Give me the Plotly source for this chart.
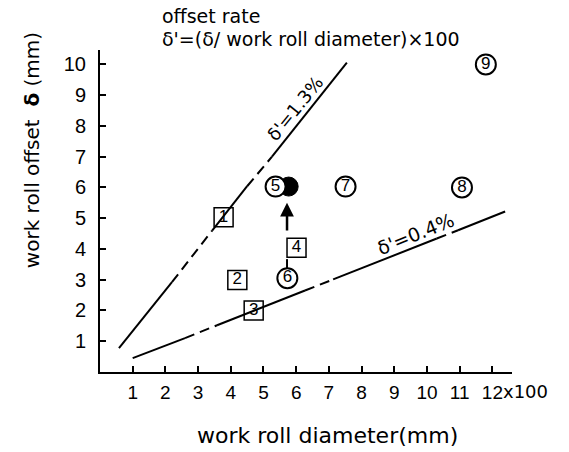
import plotly.graph_objects as go

# ---- data ----
# delta' = 1.3 % line (vertices; segments alternate solid / dashed)
line13_x = [0.58, 2.2, 3.43, 4.5, 5.26, 7.55]
line13_y = [0.78, 2.92, 4.6, 6.04, 7.0, 10.06]
line13_style = ["solid", "dash", "solid", "dash", "solid"]

# delta' = 0.4 % line
line04_x = [1.0, 2.6, 3.58, 6.27, 7.13, 10.3, 10.95, 12.39]
line04_y = [0.45, 1.10, 1.52, 2.65, 3.01, 4.34, 4.61, 5.22]
line04_style = ["solid", "dash", "solid", "dash", "solid", "dash", "solid"]

# square-marked cases
box_x = [3.78, 4.2, 4.7, 6.01]
box_y = [5.03, 2.99, 2.0, 4.04]
box_labels = ["1", "2", "3", "4"]

# circle-marked cases
circ_x = [5.37, 5.73, 7.51, 11.07, 11.8]
circ_y = [6.03, 3.05, 6.03, 6.0, 10.0]
circ_labels = ["5", "6", "7", "8", "9"]

# filled circle (improved case)
filled_x = [5.77]
filled_y = [6.03]

# connector from 6 to 4, and arrow from 4 up to the filled point
conn_x = [5.72, 5.72]
conn_y = [3.3, 3.67]
arrow_from = (5.72, 4.55)
arrow_to = (5.72, 5.5)

x_ticks = list(range(1, 13))
y_ticks = list(range(1, 11))

FONT = "Liberation Sans"
TFONT = "DejaVu Sans"

fig = go.Figure()

def add_segments(xs, ys, styles):
    for i, st in enumerate(styles):
        fig.add_trace(go.Scatter(
            x=xs[i:i + 2], y=ys[i:i + 2], mode="lines",
            line=dict(color="black", width=2,
                      dash=("solid" if st == "solid" else "10px,6px")),
            showlegend=False, hoverinfo="skip"))

add_segments(line13_x, line13_y, line13_style)
add_segments(line04_x, line04_y, line04_style)

fig.add_trace(go.Scatter(x=conn_x, y=conn_y, mode="lines",
                         line=dict(color="black", width=2),
                         showlegend=False, hoverinfo="skip"))

fig.add_trace(go.Scatter(
    x=filled_x, y=filled_y, mode="markers",
    marker=dict(symbol="circle", size=19, color="black",
                line=dict(color="black", width=1)),
    showlegend=False))

fig.add_trace(go.Scatter(
    x=box_x, y=box_y, mode="markers+text", text=box_labels,
    textposition="middle center",
    textfont=dict(family=FONT, size=17, color="black"),
    marker=dict(symbol="square-open", size=19, color="black",
                line=dict(color="black", width=1.5)),
    showlegend=False))

fig.add_trace(go.Scatter(
    x=circ_x, y=circ_y, mode="markers+text", text=circ_labels,
    textposition="middle center",
    textfont=dict(family=FONT, size=17, color="black"),
    marker=dict(symbol="circle", size=20, color="white",
                line=dict(color="black", width=2)),
    showlegend=False))

fig.add_annotation(x=arrow_to[0], y=arrow_to[1], ax=arrow_from[0], ay=arrow_from[1],
                   xref="x", yref="y", axref="x", ayref="y", text="",
                   showarrow=True, arrowhead=2, arrowsize=1.1, arrowwidth=2.5,
                   arrowcolor="black")

# line labels
fig.add_annotation(x=5.97, y=8.56, xref="x", yref="y", text="δ'=1.3%",
                   showarrow=False, textangle=-51,
                   font=dict(family=TFONT, size=18, color="black"))
fig.add_annotation(x=9.64, y=4.5, xref="x", yref="y", text="δ'=0.4%",
                   showarrow=False, textangle=-22,
                   font=dict(family=TFONT, size=19, color="black"))

# title lines
fig.add_annotation(x=0.1456, y=1.106, xref="paper", yref="paper",
                   text="offset rate", showarrow=False,
                   xanchor="left", yanchor="middle",
                   font=dict(family=TFONT, size=19, color="black"))
fig.add_annotation(x=0.1456, y=1.034, xref="paper", yref="paper",
                   text="δ'=(δ/ work roll diameter)×100", showarrow=False,
                   xanchor="left", yanchor="middle",
                   font=dict(family=TFONT, size=19, color="black"))

# axis titles
fig.add_annotation(x=0.551, y=-0.196, xref="paper", yref="paper",
                   text="work roll diameter(mm)", showarrow=False,
                   xanchor="center", yanchor="middle",
                   font=dict(family=TFONT, size=22, color="black"))
fig.add_annotation(x=-0.165, y=0.689, xref="paper", yref="paper",
                   text="work roll offset  <b>δ</b> (mm)", showarrow=False,
                   textangle=-90, xanchor="center", yanchor="middle",
                   font=dict(family=TFONT, size=20, color="black"))

# "x100" suffix after the last x tick
fig.add_annotation(x=12, y=-0.062, xref="x", yref="paper", text="x100",
                   showarrow=False, xanchor="left", yanchor="middle", xshift=9,
                   font=dict(family=TFONT, size=18, color="black"))

fig.update_xaxes(range=[0, 12.6], tickvals=x_ticks,
                 ticktext=[str(v) for v in x_ticks],
                 ticks="inside", ticklen=6, tickwidth=1.5, tickcolor="black",
                 showline=True, linecolor="black", linewidth=2,
                 showgrid=False, zeroline=False, ticklabelstandoff=2,
                 tickfont=dict(family=FONT, size=19, color="black"))
fig.update_yaxes(range=[0, 10.47], tickvals=y_ticks,
                 ticktext=[str(v) for v in y_ticks],
                 ticks="inside", ticklen=6, tickwidth=1.5, tickcolor="black",
                 showline=True, linecolor="black", linewidth=2,
                 showgrid=False, zeroline=False, ticklabelstandoff=8,
                 tickfont=dict(family=FONT, size=20, color="black"))

fig.update_layout(width=569, height=452,
                  margin=dict(l=100, r=57, t=50, b=80),
                  paper_bgcolor="white", plot_bgcolor="white",
                  showlegend=False)

# remove the default 8px page margin so the figure fills the window exactly
fig.write_html("out.html", config={"displayModeBar": False},
               post_script="document.body.style.margin='0';")
